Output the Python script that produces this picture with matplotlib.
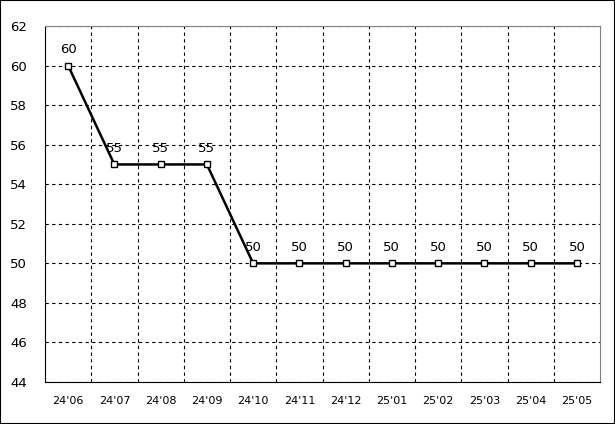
import matplotlib
matplotlib.use('Agg')
import matplotlib.pyplot as plt
import numpy as np

months = ["24'06", "24'07", "24'08", "24'09", "24'10", "24'11",
          "24'12", "25'01", "25'02", "25'03", "25'04", "25'05"]
values = [60, 55, 55, 55, 50, 50, 50, 50, 50, 50, 50, 50]
yticks = [44, 46, 48, 50, 52, 54, 56, 58, 60, 62]

plt.rcParams['font.family'] = 'DejaVu Sans'

fig = plt.figure(figsize=(6.15, 4.24), dpi=100)
ax = fig.add_axes([45/615, 42/424, 555/615, 356/424])

x = np.arange(len(months))
ax.plot(x, values, color='black', lw=1.8, marker='s', ms=4.5,
        mfc='white', mec='black', mew=1, zorder=3)
for xi, v in zip(x, values):
    ax.annotate(str(v), (xi, v), xytext=(0, 7), textcoords='offset points',
                ha='center', va='bottom', fontsize=9.5)

ax.set_xlim(-0.5, len(months) - 0.5)
ax.set_ylim(44, 62)
ax.set_yticks(yticks)
ax.set_xticks(x)
ax.set_xticklabels(months, fontsize=8)
ax.tick_params(axis='y', labelsize=9.5, length=0, pad=13)
ax.tick_params(axis='x', length=0, pad=10)

# vertical grid at category boundaries
ax.set_xticks(np.arange(0.5, len(months) - 0.5), minor=True)
ax.tick_params(axis='x', which='minor', length=0)
ax.grid(True, which='minor', axis='x', color='black', ls=(0, (3, 3)), lw=0.8)
ax.grid(True, which='major', axis='y', color='black', ls=(0, (3, 3)), lw=0.8)

ax.spines['top'].set_color('#808080')
ax.spines['right'].set_color('#808080')
ax.spines['left'].set_color('black')
ax.spines['bottom'].set_color('black')

fig.patches.append(plt.Rectangle((0, 0), 1, 1, transform=fig.transFigure,
                                 fill=False, ec='black', lw=1.5))

fig.savefig('out.png', dpi=100)
